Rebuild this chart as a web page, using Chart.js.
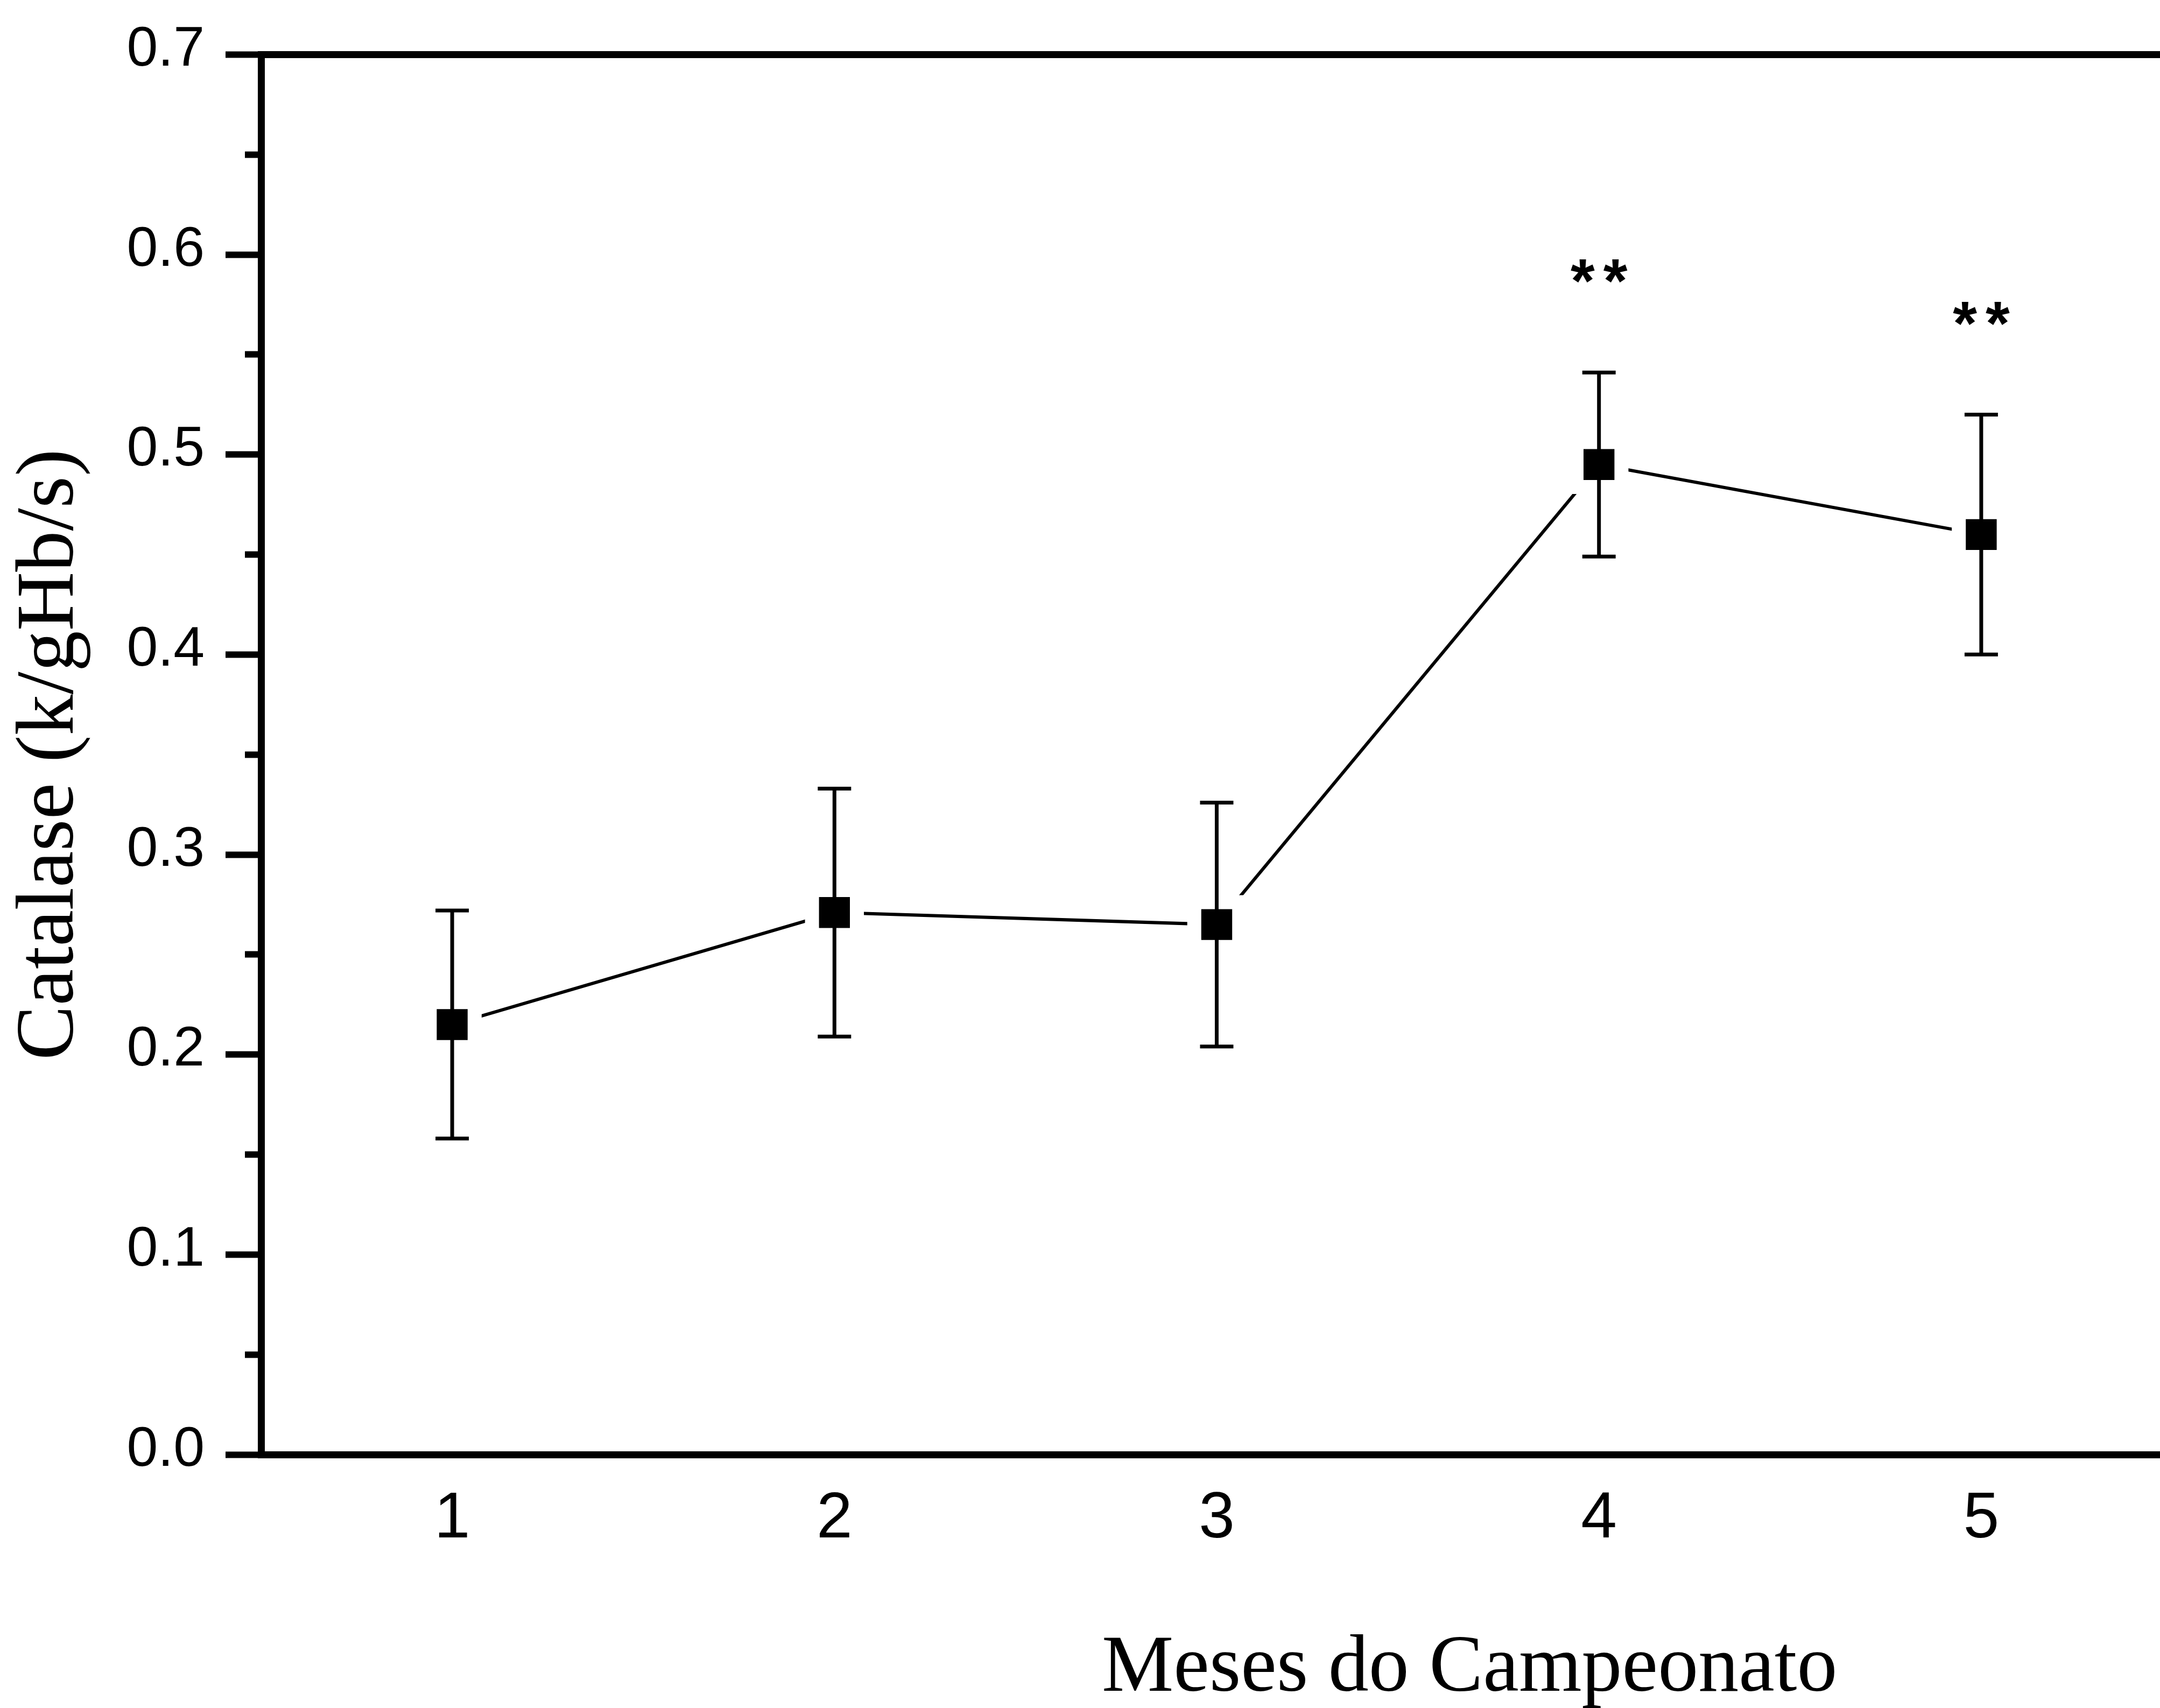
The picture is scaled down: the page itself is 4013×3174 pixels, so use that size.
<!DOCTYPE html>
<html>
<head>
<meta charset="utf-8">
<script src="https://cdn.jsdelivr.net/npm/chart.js@4/dist/chart.umd.min.js"></script>
<style>
html, body { margin: 0; padding: 0; background: #ffffff; overflow: hidden; }
#wrap { position: relative; width: 4040px; height: 3174px; }
</style>
</head>
<body>
<div id="wrap"><canvas id="c"></canvas></div>
<script>
// ---- data ----
const months = [1, 2, 3, 4, 5];
const catalase = [0.215, 0.271, 0.265, 0.495, 0.460];
const sem = [0.057, 0.062, 0.061, 0.046, 0.060];
const significance = ['', '', '', '**', '**'];
const xTickValues = [1, 2, 3, 4, 5];
const yTickValues = [0, 0.05, 0.1, 0.15, 0.2, 0.25, 0.3, 0.35, 0.4, 0.45, 0.5, 0.55, 0.6, 0.65, 0.7];
const yLabelValues = [0, 0.1, 0.2, 0.3, 0.4, 0.5, 0.6, 0.7];
const xTitle = 'Meses do Campeonato';
const yTitle = 'Catalase (k/gHb/s)';

function isMajor(v) {
  return yLabelValues.some(l => Math.abs(l - v) < 1e-9);
}

const errorBarPlugin = {
  id: 'errorBars',
  afterDatasetsDraw(chart) {
    const { ctx, scales } = chart;
    const x = scales.x, y = scales.y;
    ctx.save();
    ctx.strokeStyle = '#000';
    ctx.lineWidth = 7;
    ctx.lineCap = 'butt';
    months.forEach((m, i) => {
      const px = x.getPixelForValue(m);
      const top = y.getPixelForValue(catalase[i] + sem[i]);
      const bot = y.getPixelForValue(catalase[i] - sem[i]);
      const half = 31;
      ctx.beginPath();
      ctx.moveTo(px, top); ctx.lineTo(px, bot);
      ctx.moveTo(px - half, top); ctx.lineTo(px + half, top);
      ctx.moveTo(px - half, bot); ctx.lineTo(px + half, bot);
      ctx.stroke();
    });
    // significance marks
    ctx.fillStyle = '#000';
    ctx.font = 'bold 115px "Liberation Sans"';
    ctx.textAlign = 'center';
    ctx.textBaseline = 'alphabetic';
    try { ctx.letterSpacing = '16px'; } catch (e) {}
    months.forEach((m, i) => {
      if (!significance[i]) return;
      const px = x.getPixelForValue(m);
      const py = y.getPixelForValue(catalase[i] + sem[i] + 0.053);
      ctx.fillText(significance[i], px + 8, py + 0.575 * 115);
    });
    ctx.restore();
  },
  afterDraw(chart) {
    const { ctx } = chart;
    ctx.save();
    ctx.fillStyle = '#000';
    ctx.font = '150px "Liberation Serif"';
    ctx.textAlign = 'left';
    ctx.textBaseline = 'alphabetic';
    ctx.fillText(xTitle, 2047, 3142);
    ctx.restore();
  }
};

new Chart(document.getElementById('c'), {
  type: 'line',
  data: {
    datasets: [{
      label: 'Catalase',
      data: months.map((m, i) => ({ x: m, y: catalase[i] })),
      borderColor: '#000',
      borderWidth: 6,
      tension: 0,
      pointStyle: 'rect',
      pointRadius: 59,
      pointHoverRadius: 59,
      pointBackgroundColor: '#000',
      pointBorderColor: '#fff',
      pointBorderWidth: 26,
      clip: false
    }]
  },
  options: {
    responsive: true,
    maintainAspectRatio: false,
    devicePixelRatio: 1,
    animation: false,
    events: [],
    layout: { autoPadding: false, padding: { top: 93, right: 4, left: 0, bottom: 0 } },
    plugins: { legend: { display: false }, tooltip: { enabled: false } },
    scales: {
      x: {
        type: 'linear', position: 'bottom', min: 0.5, max: 5.5,
        afterBuildTicks: s => { s.ticks = xTickValues.map(v => ({ value: v })); },
        afterFit: s => { s.height = 471; },
        grid: { display: false, drawTicks: false },
        border: { display: true, color: '#000', width: 13 },
        ticks: {
          color: '#000', autoSkip: false, maxRotation: 0, padding: 49,
          font: { family: 'Liberation Sans', size: 120, lineHeight: 1.2 },
          callback: v => String(v)
        }
      },
      x2: {
        type: 'linear', position: 'top', min: 0.5, max: 5.5,
        afterFit: s => { s.height = 0; },
        grid: { display: false, drawTicks: false },
        border: { display: true, color: '#000', width: 13 },
        ticks: { display: false }
      },
      y: {
        type: 'linear', position: 'left', min: 0, max: 0.7,
        afterBuildTicks: s => { s.ticks = yTickValues.map(v => ({ value: v })); },
        afterFit: s => { s.width = 485; },
        grid: {
          drawOnChartArea: false, drawTicks: true, tickLength: 66,
          tickWidth: 12, tickColor: '#000',
          tickBorderDash: c => (c.tick && !isMajor(c.tick.value)) ? [0, 36, 80, 0] : []
        },
        border: { display: true, color: '#000', width: 13 },
        ticks: {
          color: '#000', autoSkip: false, padding: 39, labelOffset: -8,
          font: { family: 'Liberation Sans', size: 104 },
          callback: v => isMajor(v) ? v.toFixed(1) : ''
        },
        title: {
          display: true, text: yTitle, color: '#000',
          font: { family: 'Liberation Serif', size: 152, lineHeight: 1 },
          padding: { top: 19, bottom: 0 }
        }
      }
    }
  },
  plugins: [errorBarPlugin]
});
</script>
</body>
</html>
